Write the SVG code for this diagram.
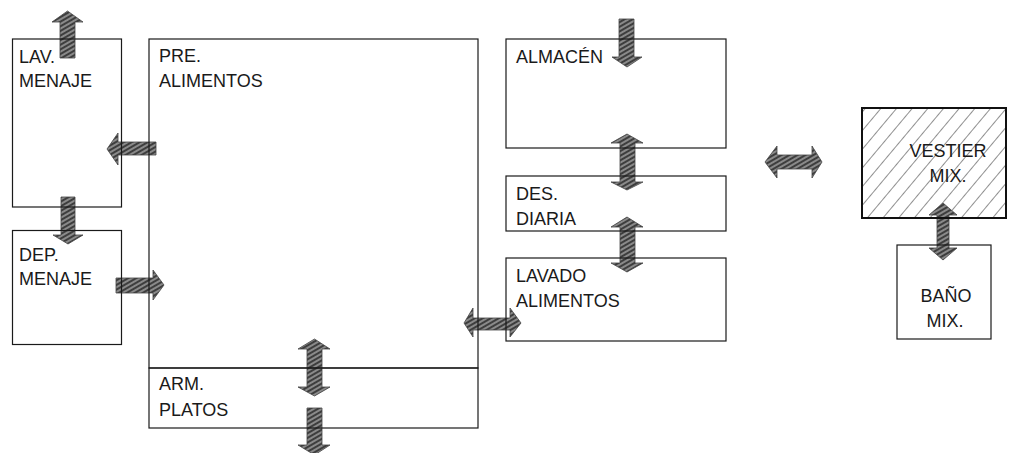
<svg xmlns="http://www.w3.org/2000/svg" width="1016" height="453" viewBox="0 0 1016 453">
<defs>
<pattern id="ah" width="4" height="4" patternUnits="userSpaceOnUse" patternTransform="rotate(-30)">
<rect width="4" height="4" fill="#8a8a8a"/>
<line x1="0" y1="1" x2="4" y2="1" stroke="#2a2a2a" stroke-width="1.6"/>
</pattern>
<pattern id="vh" width="12" height="12" patternUnits="userSpaceOnUse" patternTransform="rotate(-50)">
<line x1="0" y1="0" x2="12" y2="0" stroke="#222" stroke-width="1"/>
</pattern>
<style>
.box{fill:none;stroke:#1a1a1a;stroke-width:1.2}
.arr{fill:url(#ah);stroke:#444;stroke-width:0.8;stroke-linejoin:round}
text{font-family:"Liberation Sans",Arial,sans-serif;font-size:18px;fill:#1a1a1a}
.c{text-anchor:middle}
</style>
</defs>
<rect width="1016" height="453" fill="#fff"/>
<rect x="862" y="108" width="144" height="110" fill="url(#vh)"/>
<g id="connectors">
<polygon class="arr" points="67.5,11 83,22 75,22 75,58 60,58 60,22 52,22"/>
<polygon class="arr" points="107,149 118,133 118,142 156,142 156,155 118,155 118,165"/>
<polygon class="arr" points="61,197 75,197 75,235 83,235 68,244 53,235 61,235"/>
<polygon class="arr" points="116,278 153,278 153,270 164,285 153,300 153,293 116,293"/>
<polygon class="arr" points="314.5,339 330,349 322,349 322,387 330,387 314.5,396 298,387 307,387 307,349 298,349"/>
<polygon class="arr" points="307,408 322,408 322,445 330,445 314.5,455 298,445 307,445"/>
<polygon class="arr" points="464,323 473,308 473,318 510,318 510,308 521,323 510,337 510,330 473,330 473,337"/>
<polygon class="arr" points="619,19 634,19 634,57 642,57 627,67 612,57 619,57"/>
<polygon class="arr" points="627,134 643,143 635,143 635,182 643,182 627,190 611,182 620,182 620,143 611,143"/>
<polygon class="arr" points="627,217 643,227 635,227 635,263 643,263 627,272 611,263 620,263 620,227 611,227"/>
<polygon class="arr" points="765,162 777,146 777,155 812,155 812,146 822,162 812,178 812,169 777,169 777,178"/>
<polygon class="arr" points="943,203 957,215 949,215 949,248 957,248 943,260 929,248 937,248 937,215 929,215"/>
</g>
<g id="lav-menaje"><rect class="box" x="12.5" y="39" width="109" height="168"/><text x="19" y="63">LAV.</text><text x="19" y="87">MENAJE</text></g>
<g id="dep-menaje"><rect class="box" x="12.5" y="230.5" width="109" height="114"/><text x="19" y="261">DEP.</text><text x="19" y="285">MENAJE</text></g>
<g id="pre-alimentos"><rect class="box" x="149" y="39" width="329" height="329"/><text x="159" y="62">PRE.</text><text x="159" y="87">ALIMENTOS</text></g>
<g id="arm-platos"><rect class="box" x="149" y="368" width="329" height="60"/><text x="159" y="390">ARM.</text><text x="159" y="416">PLATOS</text></g>
<g id="almacen"><rect class="box" x="506" y="39" width="220" height="109"/><text x="516" y="63">ALMACÉN</text></g>
<g id="des-diaria"><rect class="box" x="506" y="176" width="220" height="55"/><text x="516" y="200">DES.</text><text x="516" y="225">DIARIA</text></g>
<g id="lavado-alimentos"><rect class="box" x="506" y="258" width="220" height="83"/><text x="516" y="282">LAVADO</text><text x="516" y="307">ALIMENTOS</text></g>
<g id="vestier-mix"><rect x="862" y="108" width="144" height="110" fill="none" stroke="#111" stroke-width="2"/><text class="c" x="948" y="157">VESTIER</text><text class="c" x="948" y="182">MIX.</text></g>
<g id="bano-mix"><rect class="box" x="897" y="245" width="94" height="94"/><text class="c" x="946" y="302">BAÑO</text><text class="c" x="945" y="327">MIX.</text></g>
</svg>
